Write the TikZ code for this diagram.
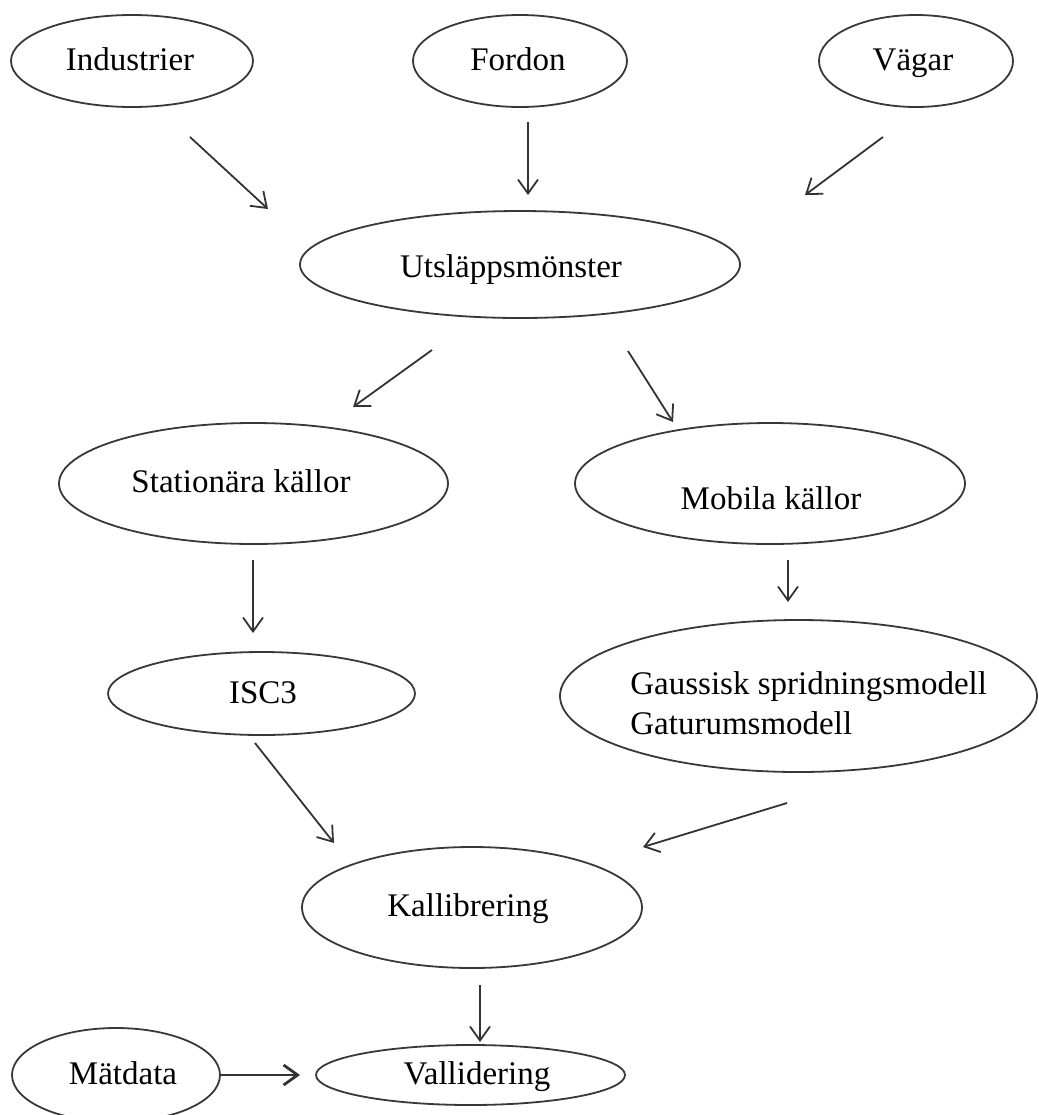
\documentclass[tikz,border=0pt]{standalone}
\usepackage{fontspec}
\setmainfont{Liberation Serif}
\usetikzlibrary{shapes.geometric,arrows.meta}
\tikzset{
  ell/.style={ellipse, draw=black!78, line width=0.9pt, inner sep=0pt, outer sep=0pt},
  txt/.style={font=\fontsize{16.5}{20}\selectfont, inner sep=0pt, text=black, text height=11pt, text depth=0pt},
  arr/.style={draw=black!80, line width=0.9pt, -{Straight Barb[length=7pt,width=10pt]}},
  thickarr/.style={arr, line width=1.4pt}
}
\begin{document}
\begin{tikzpicture}[x=0.5pt,y=-0.5pt]
\useasboundingbox (0,0) rectangle (1039,1115);
\clip (0,0) rectangle (1039,1115);

% ellipses
\node[ell, minimum width=121pt, minimum height=46pt] (ind) at (132,61) {};
\node[ell, minimum width=107pt, minimum height=46pt] (ford) at (520,61) {};
\node[ell, minimum width=97pt, minimum height=46pt] (vag) at (916,61) {};
\node[ell, minimum width=220pt, minimum height=53.5pt] (uts) at (520,264.5) {};
\node[ell, minimum width=194.5pt, minimum height=60.5pt] (stat) at (253.5,483.5) {};
\node[ell, minimum width=153.5pt, minimum height=41.5pt] (isc) at (261.5,693.5) {};
\node[ell, minimum width=195pt, minimum height=60.5pt] (mob) at (770,483.5) {};
\node[ell, minimum width=238.5pt, minimum height=76pt] (gau) at (798.5,696) {};
\node[ell, minimum width=170pt, minimum height=60.5pt] (kal) at (472,907.5) {};
\node[ell, minimum width=104pt, minimum height=47pt] (mat) at (116,1075) {};
\node[ell, minimum width=154.5pt, minimum height=30pt] (val) at (470.5,1075) {};

% texts
\node[txt] (indt) at (130,59) {Industrier};
\node[txt] (fordt) at (518,59) {Fordon};
\node[txt] (vagt) at (913,59) {Vägar};
\node[txt] (utst) at (511,266) {Utsläppsmönster};
\node[txt] (statt) at (241,481) {Stationära källor};
\node[txt] (isct) at (263,692) {ISC3};
\node[txt] (mobt) at (771,498) {Mobila källor};
\node[txt, align=left, anchor=west, text height=, text depth=] (gaut) at (630,703) {Gaussisk spridningsmodell\\Gaturumsmodell};
\node[txt] (kalt) at (468,905) {Kallibrering};
\node[txt] (matt) at (123,1073) {Mätdata};
\node[txt] (valt) at (477,1073) {Vallidering};

% connector end points
\coordinate (a1s) at (190,137);  \coordinate (a1e) at (268,209);
\coordinate (a2s) at (528,122);  \coordinate (a2e) at (528,195);
\coordinate (a3s) at (883,137);  \coordinate (a3e) at (805,195);
\coordinate (a4s) at (432,350);  \coordinate (a4e) at (353,407);
\coordinate (a5s) at (628,351);  \coordinate (a5e) at (673,422);
\coordinate (a6s) at (253,560);  \coordinate (a6e) at (253,633);
\coordinate (a7s) at (788,560);  \coordinate (a7e) at (788,602);
\coordinate (a8s) at (255,743);  \coordinate (a8e) at (334,843);
\coordinate (a9s) at (787,803);  \coordinate (a9e) at (643,847);
\coordinate (a10s) at (480,985); \coordinate (a10e) at (480,1042);
\coordinate (a11e) at (300,1075);

\draw[arr] (a1s) -- (a1e);
\draw[arr] (a2s) -- (a2e);
\draw[arr] (a3s) -- (a3e);
\draw[arr] (a4s) -- (a4e);
\draw[arr] (a5s) -- (a5e);
\draw[arr] (a6s) -- (a6e);
\draw[arr] (a7s) -- (a7e);
\draw[arr] (a8s) -- (a8e);
\draw[arr] (a9s) -- (a9e);
\draw[arr] (a10s) -- (a10e);
\draw[thickarr] (mat.east) -- (a11e);
\end{tikzpicture}
\end{document}
